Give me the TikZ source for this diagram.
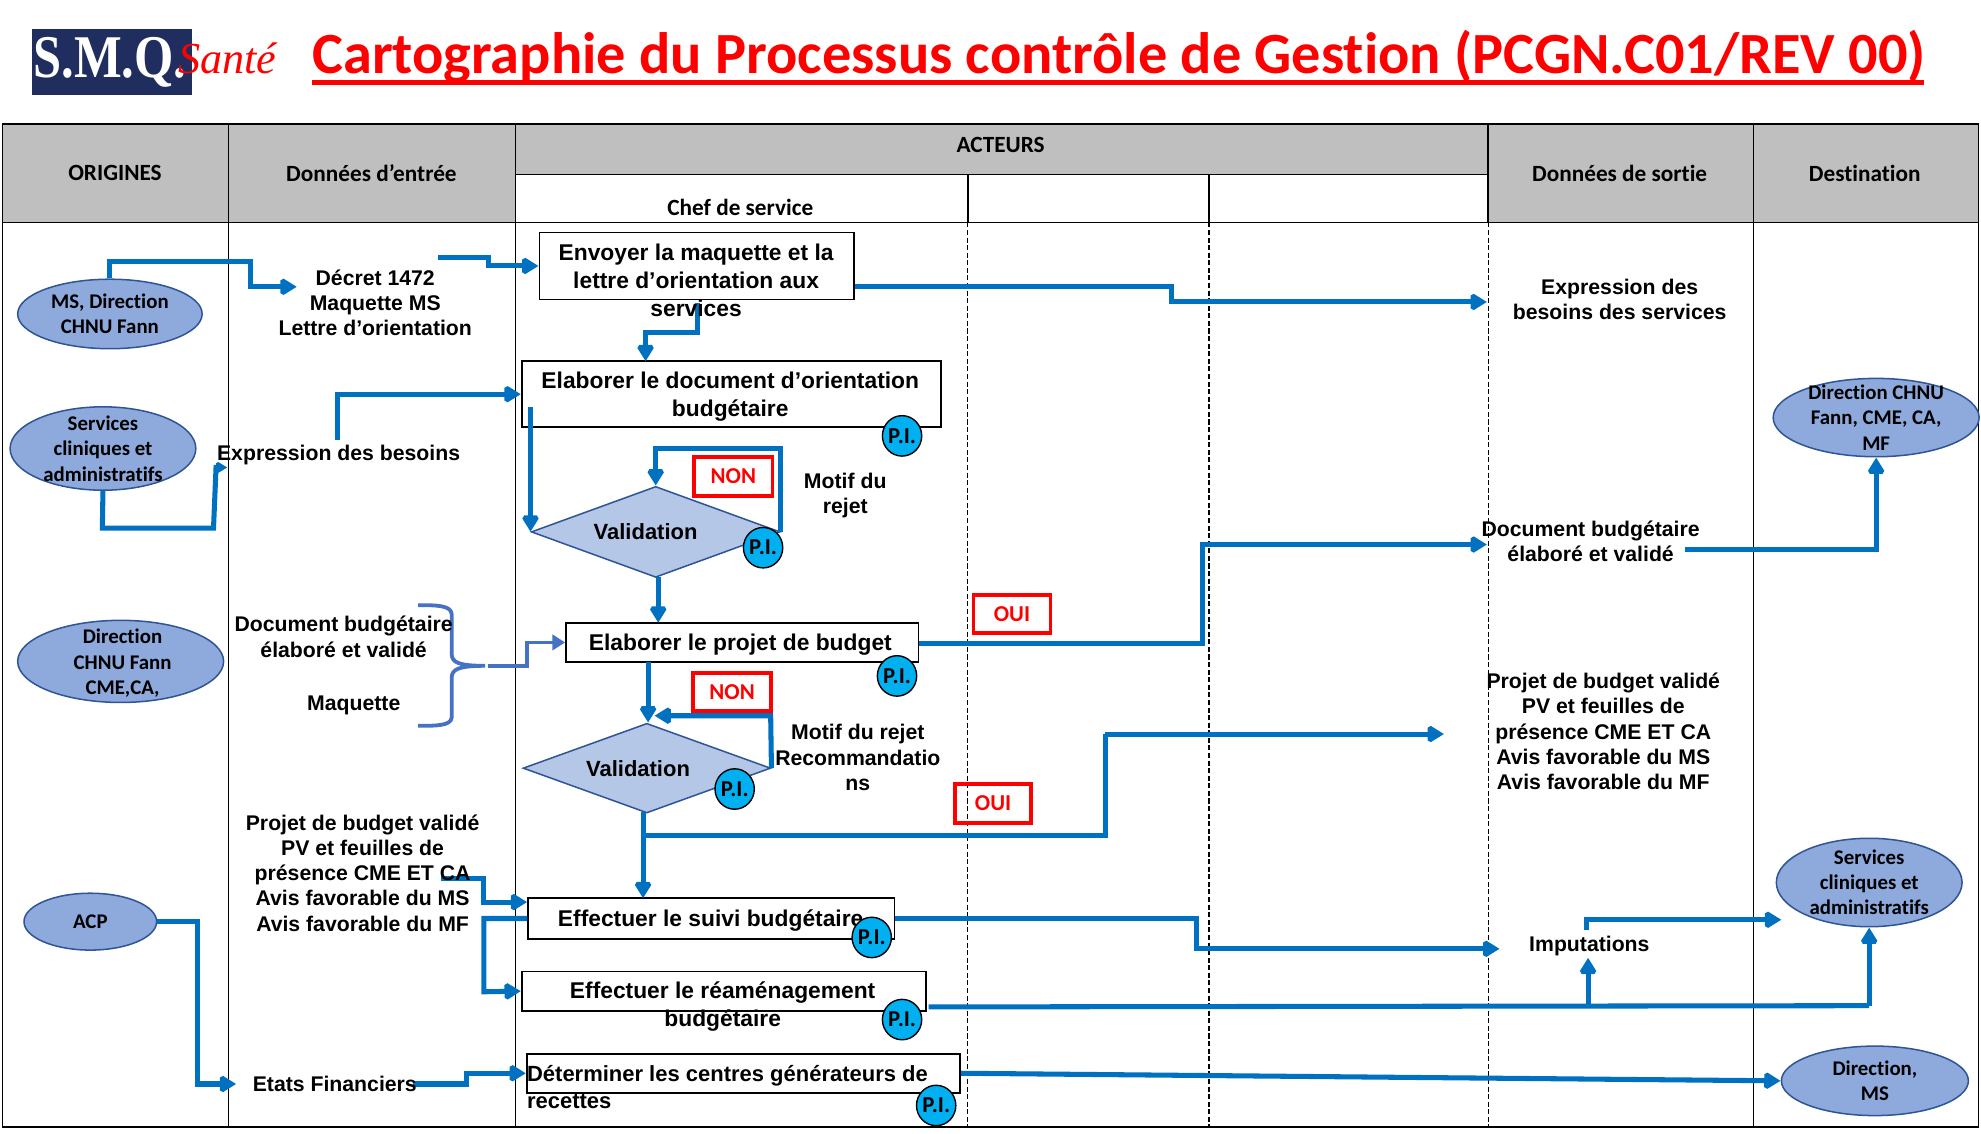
\documentclass[tikz,border=0pt]{standalone}
\usepackage{graphicx}
\usepackage{fontspec}
\setmainfont{Liberation Sans}
\newfontfamily\calib[Ligatures=NoCommon]{Carlito}
\newfontfamily\serifb{Liberation Serif}
\usetikzlibrary{arrows.meta,shapes.geometric,calc}
\definecolor{hdr}{HTML}{BFBFBF}
\definecolor{flow}{HTML}{0070C0}
\definecolor{brk}{HTML}{4472C4}
\definecolor{ellf}{HTML}{8EA9DB}
\definecolor{elld}{HTML}{2F5597}
\definecolor{diaf}{HTML}{B4C7E7}
\definecolor{pif}{HTML}{00B0F0}
\definecolor{navy}{HTML}{1F2D5F}
\tikzset{
  arr/.style={draw=flow,line width=4pt,-{Triangle[length=13pt,width=15pt]},miter limit=2},
  flowline/.style={draw=flow,line width=4pt},
  arrb/.style={draw=brk,line width=3pt,-{Triangle[length=10pt,width=12pt]}},
  procbox/.style={draw=black,line width=1.4pt,fill=white,rectangle,inner sep=0pt},
  txt/.style={font=\fontsize{16.8}{20}\selectfont\bfseries,align=center,inner sep=0pt},
  btxt/.style={font=\fontsize{18.05}{22}\selectfont\bfseries,align=center,inner sep=0pt},
  hd/.style={font=\calib\fontsize{18.4}{20}\selectfont\bfseries,align=center,inner sep=0pt},
  ell/.style={ellipse,draw=elld,line width=1.2pt,fill=ellf,inner sep=-12pt,font=\calib\fontsize{16.5}{20}\selectfont\bfseries,align=center},
  elltext/.style={inner sep=0pt,font=\calib\fontsize{16.5}{20}\selectfont\bfseries,align=center},
  dia/.style={diamond,aspect=2.73,draw=elld,line width=1.2pt,fill=diaf,inner sep=0pt},
  pinode/.style={ellipse,draw=black,line width=1.1pt,fill=pif,minimum width=29pt,minimum height=32pt,inner sep=0pt,font=\calib\fontsize{18}{18}\selectfont\bfseries},
  tagbox/.style={draw=red,line width=3pt,fill=white,rectangle,inner sep=0pt,text=red,font=\calib\fontsize{18}{20}\selectfont\bfseries},
  gridl/.style={draw=black,line width=1.3pt},
  dashl/.style={draw=black,line width=1.1pt,dash pattern=on 4pt off 2pt}
}
\begin{document}
\begin{tikzpicture}[x=1pt,y=-1pt]
\useasboundingbox (0,0) rectangle (1568,897);
% header
\fill[hdr] (2,98) rectangle (408,176);
\fill[hdr] (408,98) rectangle (1178,138);
\fill[hdr] (1178,98) rectangle (1566,176);
\draw[dashl] (766,176) -- (766,892);
\draw[dashl] (957,176) -- (957,892);
\draw[dashl] (1178,176) -- (1178,892);
\draw[gridl] (2,98) rectangle (1566,892);
\draw[gridl] (2,176) -- (1566,176);
\draw[gridl] (408,138) -- (1178,138);
\draw[gridl] (181,98) -- (181,892);
\draw[gridl] (408,98) -- (408,892);
\draw[gridl] (1178,98) -- (1178,176);
\draw[gridl] (1388,98) -- (1388,892);
\draw[gridl] (766,138) -- (766,176);
\draw[gridl] (957,138) -- (957,176);
\node[hd] (h1) at (91,137) {ORIGINES};
\node[hd] (h2) at (294,137) {Données d’entrée};
\node[hd] (h3) at (792,115) {ACTEURS};
\node[hd] (h4) at (586,164) {Chef de service};
\node[hd] (h5) at (1282,137) {Données de sortie};
\node[hd] (h6) at (1476,137) {Destination};
% title and logo
\node[fill=navy,minimum width=127pt,minimum height=52pt,inner sep=0pt] (logo) at (88.5,49) {};
\node[text=white,font=\serifb\fontsize{40}{40}\selectfont\bfseries,inner sep=0pt] (logot) at (87,49) {\scalebox{1}[1.2]{S.M.Q.}};
\node[text=red,font=\serifb\fontsize{35}{35}\selectfont\itshape,inner sep=0pt] (sante) at (180,46) {Santé};
\node[text=red,font=\calib\fontsize{46.2}{48}\selectfont\bfseries,inner sep=0pt,anchor=base west] (title) at (247,58) {Cartographie du Processus contrôle de Gestion (PCGN.C01/REV 00)};
\fill[red] (247,63) rectangle (1523,67);
% origin / destination ellipses
\node[ell,minimum width=146pt,minimum height=55pt] (ms) at (87,248.5) {MS, Direction\\CHNU Fann};
\node[ell,minimum width=147pt,minimum height=66pt] (serv) at (81.5,355) {Services\\cliniques et\\administratifs};
\node[ell,minimum width=163pt,minimum height=65pt] (dir) at (95.5,523.5) {};
\node[elltext] (dirt) at (97,525) {Direction\\CHNU Fann\\CME,CA,};
\node[ell,minimum width=105pt,minimum height=45pt] (acp) at (71.5,729.5) {ACP};
\node[ell,minimum width=163pt,minimum height=62pt] (dd1) at (1485,330.5) {Direction CHNU\\Fann, CME, CA,\\MF};
\node[ell,minimum width=147pt,minimum height=70pt] (dd2) at (1479.5,698.5) {Services\\cliniques et\\administratifs};
\node[ell,minimum width=148pt,minimum height=55pt] (dd3) at (1484,855.5) {Direction,\\MS};
% process boxes
\node[procbox,minimum width=249pt,minimum height=53pt] (envoyer) at (551.5,210.5) {};
\node[procbox,minimum width=332pt,minimum height=52pt] (doc) at (579,312) {};
\node[procbox,minimum width=279pt,minimum height=31pt] (projet) at (587.5,508.5) {};
\node[procbox,minimum width=290pt,minimum height=32pt] (suivi) at (563,727) {};
\node[procbox,minimum width=320pt,minimum height=31pt] (ream) at (573,784.5) {};
\node[procbox,minimum width=343pt,minimum height=31pt] (centres) at (588.5,849.5) {};
\node[dia,minimum width=197pt,minimum height=72pt] (val1) at (519,421) {};
\node[dia,minimum width=196pt,minimum height=71pt] (val2) at (512,608) {};
% text anchors
\coordinate (decret) at (235,227);
\coordinate (exprin) at (267,348);
\coordinate (brace) at (384,527);
\coordinate (bracegap) at (386,527);
\coordinate (outexpr) at (1177,239);
\coordinate (outdoc) at (1177,431);
\coordinate (outprojet) at (1143,581);
\coordinate (outimp) at (1187,751);
\coordinate (imp) at (1257,758);
\coordinate (etatin) at (187,858);
% connectors
\draw[arr] (ms.north) -- (87,207) -- (198,207) -- (198,227) -- (decret);
\draw[arr] (347,204) -- (387,204) -- (387,210.5) -- (envoyer.west);
\draw[arr] ([yshift=-16.5pt]envoyer.east) -- (927,227) -- (927,239) -- (outexpr);
\draw[arr] (552,240) -- (552,263) -- (511,263) -- (511,286);
\draw[arr,-{Triangle[length=9pt,width=10pt]}] (serv.south) -- (81,418) -- (169,418) -- (171,370) -- (180,370);
\draw[arr] (exprin) -- (267,312) -- (doc.west);
\draw[arr] (val1.west |- 0,322) -- (val1.west);
\draw[arr] (val1.east) -- (val1.east |- 0,355) -- (val1.north |- 0,355) -- (val1.north);
\draw[arr] (521,457) -- (521,493);
\draw[arrb] (bracegap) -- (417,527) -- (417,508.5) -- (projet.west);
\draw[brk,line width=3pt] (331,479) .. controls (345,479) and (357,479) .. (357.5,486) -- (357.5,518) .. controls (358,524) and (362,527) .. (brace) .. controls (362,527) and (358,530) .. (357.5,536) -- (357.5,568) .. controls (357,574.5) and (345,574.5) .. (331,574.5);
\draw[arr] (513,524) -- (513,572);
\draw[arr] (val2.east) -- (610,566.5) -- (518,566.5);
\draw[arr] (509,643) -- (509,711);
\draw[flowline] (509,661) -- (875,661) -- (875,581);
\draw[arr] (875,581) -- (outprojet);
\draw[arr] ([yshift=-0.5pt]projet.east) -- (952,509) -- (952,431) -- (outdoc);
\draw[arr] (1334,435) -- (1485,435) -- (dd1.south);
\draw[arr] (349,695) -- (383,695) -- (383,714) -- ([yshift=13pt]suivi.west);
\draw[arr] (suivi.west) -- (383,727) -- (383,785) -- (ream.west);
\draw[arr] (suivi.east) -- (947,727) -- (947,751) -- (outimp);
\draw[flowline] (735,797) -- (1479.5,796);
\draw[arr] (1479.5,796) -- (dd2.south);
\draw[arr] (1257,797) -- (imp);
\draw[arr] (1256,736) -- (1256,728) -- (1410,728);
\draw[arr] (centres.east) -- (dd3.west);
\draw[arr] (acp.east) -- (156,729.5) -- (156,858) -- (etatin);
\draw[arr] (327,858) -- (369,858) -- (369,849.5) -- (centres.west);
% texts
\node[txt] (t1) at (297,239.5) {Décret 1472\\Maquette MS\\Lettre d’orientation};
\node[txt] (t2) at (268,360.5) {Expression des besoins};
\node[txt] (t3) at (272,504) {Document budgétaire\\élaboré et validé};
\node[txt] (t4) at (280,558.5) {Maquette};
\node[txt] (t5) at (287,691) {Projet de budget validé\\PV et feuilles de\\présence CME ET CA\\Avis favorable du MS\\Avis favorable du MF};
\node[txt] (t6) at (265,858) {Etats Financiers};
\node[txt] (t7) at (669,392) {Motif du\\rejet};
\node[txt] (t8) at (679,599.5) {Motif du rejet\\Recommandatio\\ns};
\node[txt] (t9) at (1282,237) {Expression des\\besoins des services};
\node[txt] (t10) at (1259,428.5) {Document budgétaire\\élaboré et validé};
\node[txt] (t11) at (1269,579) {Projet de budget validé\\PV et feuilles de\\présence CME ET CA\\Avis favorable du MS\\Avis favorable du MF};
\node[txt] (t12) at (1258,748.5) {Imputations};
\node[btxt] (b1) at (551,222) {Envoyer la maquette et la\\lettre d’orientation aux\\services};
\node[btxt] (b2) at (578,314) {Elaborer le document d’orientation\\budgétaire};
\node[btxt] (b3) at (586,510.5) {Elaborer le projet de budget};
\node[btxt] (b4) at (562.5,728.5) {Effectuer le suivi budgétaire};
\node[btxt] (b5) at (572,797) {Effectuer le réaménagement\\budgétaire};
\node[btxt,align=left,anchor=west,font=\fontsize{17.4}{21}\selectfont\bfseries] (b6) at (417,860.5) {Déterminer les centres générateurs de\\recettes};
\node[btxt,font=\fontsize{17.4}{22}\selectfont\bfseries] (v1) at (511,421) {Validation};
\node[btxt,font=\fontsize{17.4}{22}\selectfont\bfseries] (v2) at (505,608) {Validation};
% PI
\node[pinode] (p1) at (714,345) {P.I.};
\node[pinode] (p2) at (604,433.5) {P.I.};
\node[pinode] (p3) at (710,535) {P.I.};
\node[pinode] (p4) at (581.5,624.5) {P.I.};
\node[pinode] (p5) at (690,742) {P.I.};
\node[pinode] (p6) at (714,807) {P.I.};
\node[pinode] (p7) at (741,875) {P.I.};
% tags
\node[tagbox,minimum width=62pt,minimum height=31pt] (non1) at (580.5,377) {NON};
\node[tagbox,minimum width=61pt,minimum height=30pt] (oui1) at (801,486) {OUI};
\node[tagbox,minimum width=62pt,minimum height=30pt] (non2) at (579.5,547.5) {NON};
\node[tagbox,minimum width=60pt,minimum height=31pt,fill=none] (oui2) at (786,636) {OUI};
\end{tikzpicture}
\end{document}
